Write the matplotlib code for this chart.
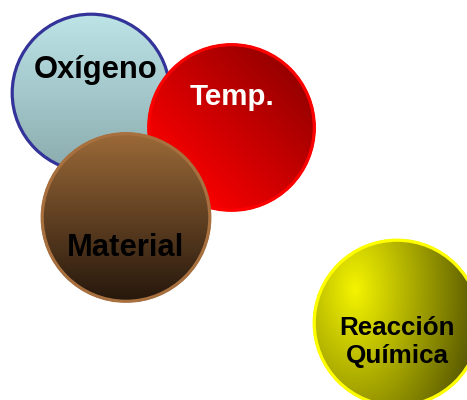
import numpy as np
import matplotlib
matplotlib.use("Agg")
import matplotlib.pyplot as plt
from matplotlib.patches import Circle
from matplotlib.colors import to_rgb

# ---- content ----
labels = ["Oxígeno", "Temp.", "Material", "Reacción\nQuímica"]
text_colors = ["black", "white", "black", "black"]
grad_start = ["#BDE4E7", "#FF0000", "#9C6A38", "#F4F400"]
grad_end = ["#8AABAE", "#960000", "#25170C", "#555500"]
edge_colors = ["#333399", "#FF0000", "#A8703F", "#FFFF00"]

# geometry (pixels, y downward)
centers = [(91, 93), (231.5, 127.5), (126, 217.5), (397, 323)]
radii = [80, 84, 85, 84]
# gradient: linear direction, or elliptical radial with focus (kind, a, b)
gradients = [("lin", 0, 1), ("lin", 1, -1), ("lin", 0, 1), ("rad", -0.5, -0.4)]
text_pos = [(96, 70), (232, 97), (126, 248), (397, 342)]
font_px = [31, 29.5, 31, 26]
line_sp = [1.0, 1.0, 1.0, 1.26]

W, H, DPI = 467, 400, 100
fig = plt.figure(figsize=(W / DPI, H / DPI), dpi=DPI)
ax = fig.add_axes([0, 0, 1, 1])
ax.set_xlim(0, W)
ax.set_ylim(H, 0)
ax.set_aspect("equal")
ax.axis("off")

N = 300
for i, lab in enumerate(labels):
    cx, cy = centers[i]
    r = radii[i]
    xs = np.linspace(-1, 1, N)
    X, Y = np.meshgrid(xs, xs)  # Y row 0 = top
    kind, a, b = gradients[i]
    if kind == "lin":
        n = np.hypot(a, b)
        t = (X * a / n + Y * b / n + 1) / 2
    else:
        t = np.hypot((X - a) / 1.5, (Y - b) / 2.4)
    t = np.clip(t, 0, 1)
    c0 = np.array(to_rgb(grad_start[i]))
    c1 = np.array(to_rgb(grad_end[i]))
    img = c0[None, None, :] * (1 - t[..., None]) + c1[None, None, :] * t[..., None]
    z = 2 * i
    im = ax.imshow(img, extent=(cx - r, cx + r, cy + r, cy - r), origin="upper",
                   zorder=z, interpolation="bilinear")
    clip = Circle((cx, cy), r, transform=ax.transData, facecolor="none", edgecolor="none")
    ax.add_patch(clip)
    im.set_clip_path(clip)
    border = Circle((cx, cy), r - 1.2, facecolor="none", edgecolor=edge_colors[i],
                    linewidth=2.3, zorder=z + 0.5)
    ax.add_patch(border)
    ax.text(text_pos[i][0], text_pos[i][1], lab, ha="center", va="center",
            fontsize=font_px[i] * 72 / DPI, fontweight="bold",
            family=["Liberation Sans", "DejaVu Sans"], color=text_colors[i],
            linespacing=line_sp[i], zorder=z + 1)

ax.set_xlim(0, W)
ax.set_ylim(H, 0)
fig.savefig("out.png", dpi=DPI)
